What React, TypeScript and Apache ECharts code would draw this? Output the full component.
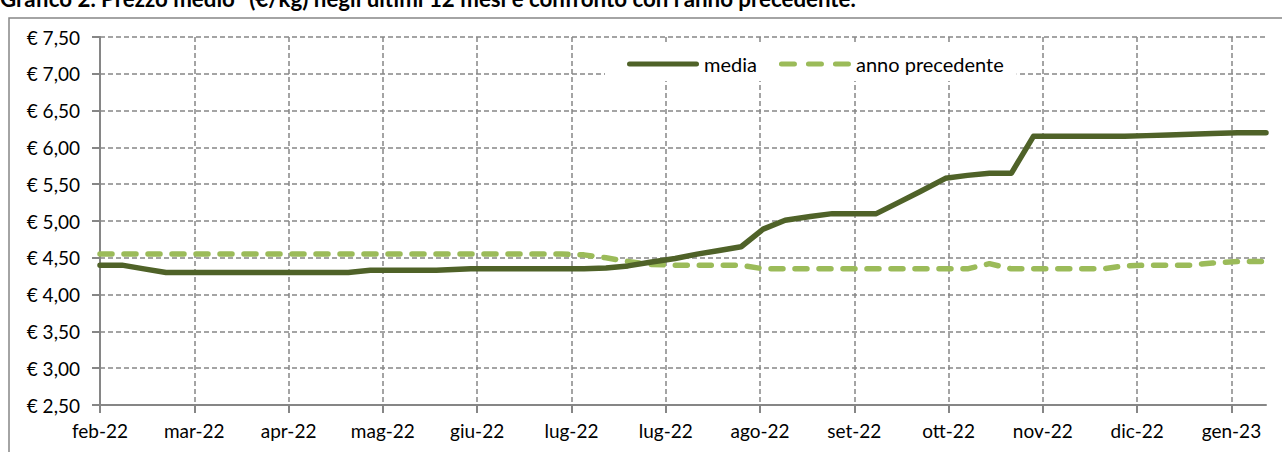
import React, { useEffect, useRef } from "react";
import * as echarts from "echarts";

// Day offsets from 1 Feb 2022 of each weekly observation
const days = [
  0, 7, 14, 21, 29, 36, 43, 50, 57, 64, 72, 79, 86, 93, 100, 107,
  118, 125, 132, 140, 147, 154, 161, 168, 175, 183, 190, 197, 204, 211, 218, 226,
  233, 240, 247, 254, 261, 269, 276, 283, 290, 297, 304, 311, 319, 326, 333, 340,
  347, 354, 362, 369, 371,
];

const media = [
  4.4, 4.4, 4.35, 4.3, 4.3, 4.3, 4.3, 4.3, 4.3, 4.3, 4.3, 4.3, 4.33, 4.33, 4.33, 4.33,
  4.35, 4.35, 4.35, 4.35, 4.35, 4.35, 4.36, 4.39, 4.44, 4.49, 4.55, 4.6, 4.65, 4.89, 5.01, 5.06,
  5.1, 5.1, 5.1, 5.25, 5.4, 5.58, 5.62, 5.65, 5.65, 6.15, 6.15, 6.15, 6.15, 6.15, 6.16, 6.17,
  6.18, 6.19, 6.2, 6.2, 6.2,
];

const annoPrecedente = [
  4.55, 4.55, 4.55, 4.55, 4.55, 4.55, 4.55, 4.55, 4.55, 4.55, 4.55, 4.55, 4.55, 4.55, 4.55, 4.55,
  4.55, 4.55, 4.55, 4.55, 4.55, 4.54, 4.5, 4.45, 4.41, 4.4, 4.4, 4.4, 4.4, 4.35, 4.35, 4.35,
  4.35, 4.35, 4.35, 4.35, 4.35, 4.35, 4.35, 4.42, 4.35, 4.35, 4.35, 4.35, 4.35, 4.39, 4.4, 4.4,
  4.4, 4.43, 4.45, 4.45, 4.45,
];

const tickDays = [0, 30, 60, 90, 120, 150, 180, 210, 240, 270, 300, 330, 360];
const tickLabels = [
  "feb-22", "mar-22", "apr-22", "mag-22", "giu-22", "lug-22", "lug-22",
  "ago-22", "set-22", "ott-22", "nov-22", "dic-22", "gen-23",
];

const title =
  "Grafico 2. Prezzo medio* (€/kg) negli ultimi 12 mesi e confronto con l'anno precedente.";

const FONT = "Lato";
const GRID = "#868686";
const DARK = "#4F6228";
const LIGHT = "#9BBB59";

const solidIcon =
  "path://M2.5,0H69.5A2.5,2.5,0,0,1,69.5,5H2.5A2.5,2.5,0,0,1,2.5,0Z";
const dashedIcon =
  "path://M2.5,0H15.5A2.5,2.5,0,0,1,15.5,5H2.5A2.5,2.5,0,0,1,2.5,0Z" +
  "M29.5,0H42.5A2.5,2.5,0,0,1,42.5,5H29.5A2.5,2.5,0,0,1,29.5,0Z" +
  "M56.5,0H69.5A2.5,2.5,0,0,1,69.5,5H56.5A2.5,2.5,0,0,1,56.5,0Z";

export default function App() {
  const ref = useRef<HTMLDivElement>(null);

  useEffect(() => {
    if (!ref.current) return;
    const chart = echarts.init(ref.current, undefined, { renderer: "svg" });
    chart.setOption({
      animation: false,
      backgroundColor: "#fff",
      textStyle: { fontFamily: FONT },
      graphic: [
        {
          type: "rect",
          shape: { x: 9, y: 18, width: 1400, height: 600 },
          style: { fill: "none", stroke: GRID, lineWidth: 1.5 },
          silent: true,
        },
        {
          type: "text",
          left: 0,
          top: -13,
          style: {
            text: title,
            fontFamily: FONT,
            fontWeight: "bold",
            fontSize: 22.3,
            fill: "#000",
          },
        },
      ],
      grid: { left: 100, right: 16, top: 37, bottom: 47, containLabel: false },
      legend: {
        left: 605,
        top: 45,
        padding: [9, 13, 7, 22],
        backgroundColor: "#fff",
        itemWidth: 72,
        itemHeight: 5,
        itemGap: 22,
        textStyle: { fontFamily: FONT, fontSize: 20, color: "#000" },
        data: [
          { name: "media", icon: solidIcon, itemStyle: { color: DARK } },
          { name: "anno precedente", icon: dashedIcon, itemStyle: { color: LIGHT } },
        ],
      },
      xAxis: {
        type: "value",
        min: 0,
        max: 371,
        axisLine: { show: true, lineStyle: { color: GRID, width: 2 } },
        axisTick: {
          show: true,
          length: 8,
          customValues: tickDays,
          lineStyle: { color: GRID, width: 2 },
        },
        axisLabel: {
          customValues: tickDays,
          margin: 16,
          color: "#000",
          fontSize: 19,
          fontFamily: FONT,
          formatter: (v: number) => {
            const i = tickDays.indexOf(v);
            return i >= 0 ? tickLabels[i] : "";
          },
        },
        splitLine: {
          show: true,
          lineStyle: { color: GRID, type: [5, 3], width: 1.5 },
        },
      },
      yAxis: {
        type: "value",
        min: 2.5,
        max: 7.5,
        interval: 0.5,
        axisLine: { show: true, lineStyle: { color: GRID, width: 2 } },
        axisTick: { show: true, length: 8, lineStyle: { color: GRID, width: 2 } },
        axisLabel: {
          margin: 20,
          color: "#000",
          fontSize: 19,
          fontFamily: FONT,
          formatter: (v: number) => "€ " + v.toFixed(2).replace(".", ","),
        },
        splitLine: {
          show: true,
          lineStyle: { color: GRID, type: [5, 3], width: 1.5 },
        },
      },
      series: [
        {
          name: "media",
          type: "line",
          symbol: "none",
          data: days.map((d, i) => [d, media[i]]),
          lineStyle: { color: DARK, width: 5.5, cap: "round", join: "round" },
          itemStyle: { color: DARK },
          z: 3,
        },
        {
          name: "anno precedente",
          type: "line",
          symbol: "none",
          data: days.map((d, i) => [d, annoPrecedente[i]]),
          lineStyle: {
            color: LIGHT,
            width: 5.5,
            type: [12, 12],
            cap: "round",
            join: "round",
          },
          itemStyle: { color: LIGHT },
          z: 2,
        },
      ],
    });
    return () => chart.dispose();
  }, []);

  return (
    <div
      ref={ref}
      style={{ position: "absolute", left: 0, top: 0, width: 1282, height: 452 }}
    />
  );
}
